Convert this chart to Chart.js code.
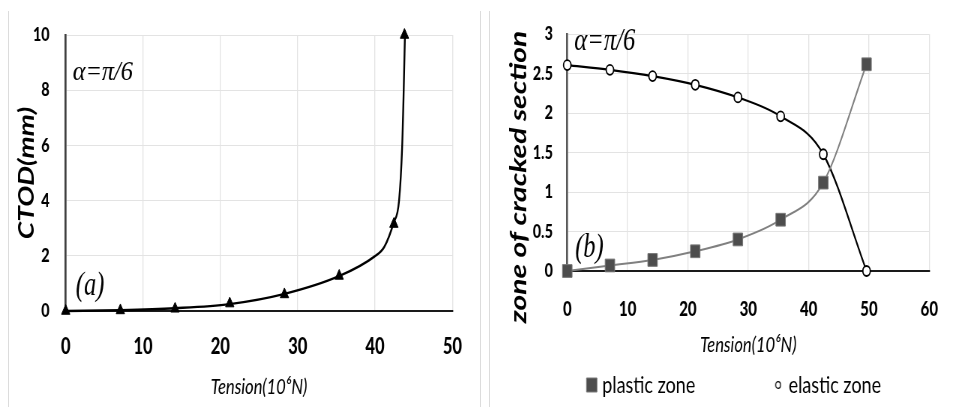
<!DOCTYPE html>
<html><head><meta charset="utf-8">
<script src="https://cdn.jsdelivr.net/npm/chart.js@4.4.1/dist/chart.umd.min.js"></script>
<style>
html,body{margin:0;padding:0;background:#fff;}
body{width:958px;height:407px;overflow:hidden;position:relative;}
.panel{position:absolute;top:0;width:639px;height:407px;transform-origin:0 0;transform:scaleX(0.75);}
.panel canvas{display:block;}
.vline{position:absolute;top:11px;height:396px;width:1px;background:#dcdcdc;}
</style></head><body>
<div class="vline" style="left:8px"></div>
<div class="vline" style="left:480px"></div>
<div class="vline" style="left:489px"></div>
<div class="panel" style="left:0"><canvas id="ca" width="639" height="407"></canvas></div>
<div class="panel" style="left:479px"><canvas id="cb" width="639" height="407"></canvas></div>
<script>
// ---- data ----
// (a) triangle markers
const tensionA = [0, 7.07, 14.14, 21.21, 28.28, 35.36, 42.43, 43.8];
const ctodMm   = [0, 0.02, 0.08, 0.27, 0.6, 1.27, 3.15, 10];
// (a) smooth curve
const curveTensionA = [0, 7.1, 14.1, 21.2, 28.3, 35.4, 39.9, 41.2, 42.4, 43.1, 43.5, 43.7, 43.86];
const curveCtodMm   = [0, 0.03, 0.1, 0.25, 0.62, 1.27, 1.97, 2.33, 3.2, 4.0, 5.95, 8.0, 10];
// (b)
const tensionB = [0, 7.07, 14.14, 21.21, 28.28, 35.36, 42.43, 49.6];
const plasticZone = [0, 0.07, 0.14, 0.25, 0.4, 0.65, 1.12, 2.62];
const elasticZone = [2.61, 2.55, 2.47, 2.36, 2.2, 1.96, 1.48, 0];
const xTicksA = [0, 10, 20, 30, 40, 50];
const yTicksA = [0, 2, 4, 6, 8, 10];
const xTicksB = [0, 10, 20, 30, 40, 50, 60];
const yTicksB = [0, 0.5, 1, 1.5, 2, 2.5, 3];
const yLabelsB = ['0', '0.5', '1', '1.5', '2', '2.5', '3'];
const seriesNames = ['plastic zone', 'elastic zone'];
const xTitle = 'Tension(10\u2076N)';
const yTitleA = 'CTOD(mm)';
const yTitleB = 'zone of cracked section';
const angleLabel = '\u03b1=\u03c0/6';

// ---- rendering ----
const S = 0.75; // horizontal condensing of the panels
Chart.defaults.font.family = 'Lato';
Chart.defaults.color = '#000';

const notesPlugin = {
  id: 'notes',
  afterDatasetsDraw(chart, args, opts) {
    const ctx = chart.ctx, xs = chart.scales.x, ys = chart.scales.y;
    (opts.items || []).forEach(it => {
      ctx.save();
      ctx.font = it.font;
      ctx.fillStyle = it.color || '#000';
      ctx.textBaseline = 'middle';
      ctx.textAlign = it.align || 'left';
      const px = it.pixel ? it.pixel[0] : xs.getPixelForValue(it.x);
      const py = it.pixel ? it.pixel[1] : ys.getPixelForValue(it.y);
      ctx.translate(px, py);
      if (it.rotate) ctx.rotate(it.rotate);
      if (it.sx) ctx.scale(it.sx, 1);
      ctx.fillText(it.text, 0, 0);
      ctx.restore();
    });
  }
};

const serif = (size) => 'italic ' + size + 'px "Liberation Serif", "Times New Roman", Times, serif';
const setTicks = (arr) => (s) => { s.ticks = arr.map(v => ({value: v})); };
const bottomAt = (target) => (s) => { s.height = s.chart.height - target - (s.chart.legend ? s.chart.legend.height : 0); };
const tickFont = (size) => ({family: 'Lato', weight: '900', size});

// Left chart (a)
new Chart(document.getElementById('ca'), {
  type: 'line',
  data: {
    datasets: [{
      label: 'CTOD markers',
      data: tensionA.map((x, i) => ({x, y: ctodMm[i]})),
      showLine: false,
      pointStyle: 'triangle', pointRadius: 6.5,
      pointBackgroundColor: '#000', pointBorderColor: '#000', pointBorderWidth: 1,
      clip: false
    }, {
      label: 'CTOD',
      data: curveTensionA.map((x, i) => ({x, y: curveCtodMm[i]})),
      borderColor: '#000', borderWidth: 2.4, pointRadius: 0,
      cubicInterpolationMode: 'monotone', clip: false
    }]
  },
  plugins: [notesPlugin],
  options: {
    responsive: false, animation: false,
    layout: {padding: {left: 0, right: 16.3, top: 35, bottom: 0}},
    plugins: {
      legend: {display: false}, tooltip: {enabled: false},
      notes: {items: [
        {text: angleLabel, x: 0.9, y: 8.64, font: serif(27), sx: 1.2},
        {text: '(a)', x: 1.3, y: 0.9, font: serif(34), sx: 0.96}
      ]}
    },
    scales: {
      x: {
        type: 'linear', min: 0, max: 50,
        afterBuildTicks: setTicks(xTicksA),
        afterFit: bottomAt(311),
        grid: {color: '#e3e3e3', lineWidth: 1 / S, drawTicks: false},
        border: {color: '#1a1a1a', width: 2},
        ticks: {padding: 23, color: '#000', autoSkip: false, maxRotation: 0,
                font: tickFont(22), callback: v => String(v)},
        title: {display: true, text: xTitle, color: '#000',
                font: {family: 'Lato', style: 'italic', size: 22}, padding: {top: 0, bottom: 7}}
      },
      y: {
        min: 0, max: 10,
        afterBuildTicks: setTicks(yTicksA),
        afterFit: (s) => { s.width = 87.6; },
        grid: {color: '#e3e3e3', lineWidth: 1, drawTicks: false},
        border: {color: '#404040', width: 2 / S},
        ticks: {padding: 21.6, color: '#000', font: tickFont(19), callback: v => String(v)},
        title: {display: true, text: yTitleA, color: '#000',
                font: {family: 'Lato', style: 'italic', weight: 'bold', size: 28}, padding: {top: 19, bottom: 0}}
      }
    }
  }
});

// Right chart (b)
const circleIcon = (() => {
  const c = document.createElement('canvas'); c.width = 10; c.height = 10;
  const g = c.getContext('2d');
  g.beginPath(); g.arc(5, 5, 3.3, 0, Math.PI * 2);
  g.fillStyle = '#fff'; g.fill(); g.lineWidth = 1.3; g.strokeStyle = '#000'; g.stroke();
  return c;
})();
const legendFont = 24;
const mctx = document.createElement('canvas').getContext('2d');
mctx.font = legendFont + 'px Lato';
const spaceW = mctx.measureText(' ').width || 5;
const gapSpaces = ' '.repeat(Math.max(0, Math.round(100 / spaceW)));

new Chart(document.getElementById('cb'), {
  type: 'line',
  data: {
    datasets: [{
      label: seriesNames[0],
      data: tensionB.map((x, i) => ({x, y: plasticZone[i]})),
      borderColor: '#808080', borderWidth: 2,
      pointStyle: 'rect', pointRadius: 9,
      pointBackgroundColor: '#4d4d4d', pointBorderColor: '#777', pointBorderWidth: 1,
      cubicInterpolationMode: 'monotone', clip: false
    }, {
      label: seriesNames[1],
      data: tensionB.map((x, i) => ({x, y: elasticZone[i]})),
      borderColor: '#000', borderWidth: 2.2,
      pointStyle: 'circle', pointRadius: 5,
      pointBackgroundColor: '#fff', pointBorderColor: '#000', pointBorderWidth: 1.8,
      cubicInterpolationMode: 'monotone', clip: false
    }]
  },
  plugins: [notesPlugin],
  options: {
    responsive: false, animation: false,
    layout: {padding: {left: 57.8, right: 12.4, top: 34.3, bottom: 0}},
    plugins: {
      tooltip: {enabled: false},
      legend: {
        display: true, position: 'bottom', align: 'center',
        labels: {
          usePointStyle: true, boxWidth: 4, boxHeight: 14, padding: 10,
          color: '#000', font: {family: 'Lato', size: legendFont},
          generateLabels: (chart) => [
            {text: chart.data.datasets[0].label + gapSpaces, fillStyle: '#4d4d4d', strokeStyle: '#7a7a7a',
             lineWidth: 1, pointStyle: 'rect', datasetIndex: 0, hidden: false, fontColor: '#000'},
            {text: chart.data.datasets[1].label, fillStyle: '#fff', strokeStyle: '#000',
             lineWidth: 1, pointStyle: circleIcon, datasetIndex: 1, hidden: false, fontColor: '#000'}
          ]
        }
      },
      notes: {items: [
        {text: angleLabel, x: 1.16, y: 2.9, font: serif(31), sx: 1.06},
        {text: '(b)', x: 1.3, y: 0.29, font: serif(34), sx: 0.96},
        {text: yTitleB, pixel: [53.3, 177], rotate: -Math.PI / 2, align: 'center',
         font: 'italic bold 30px Lato'}
      ]}
    },
    scales: {
      x: {
        type: 'linear', min: 0, max: 60,
        afterBuildTicks: setTicks(xTicksB),
        afterFit: bottomAt(271),
        grid: {color: '#e3e3e3', lineWidth: 1 / S, drawTicks: false},
        border: {color: '#1a1a1a', width: 2},
        ticks: {padding: 27, color: '#000', autoSkip: false, maxRotation: 0,
                font: tickFont(20), callback: v => String(v)},
        title: {display: true, text: xTitle, color: '#000',
                font: {family: 'Lato', style: 'italic', size: 22}, padding: {top: 0, bottom: 5}}
      },
      y: {
        min: 0, max: 3,
        afterBuildTicks: setTicks(yTicksB),
        afterFit: (s) => { s.width = 117.7 - 57.8; },
        grid: {color: '#e3e3e3', lineWidth: 1, drawTicks: false},
        border: {color: '#595959', width: 2 / S},
        ticks: {padding: 19.3, color: '#000', font: tickFont(19), callback: (v, i) => yLabelsB[i]}
      }
    }
  }
});
</script>
</body></html>
